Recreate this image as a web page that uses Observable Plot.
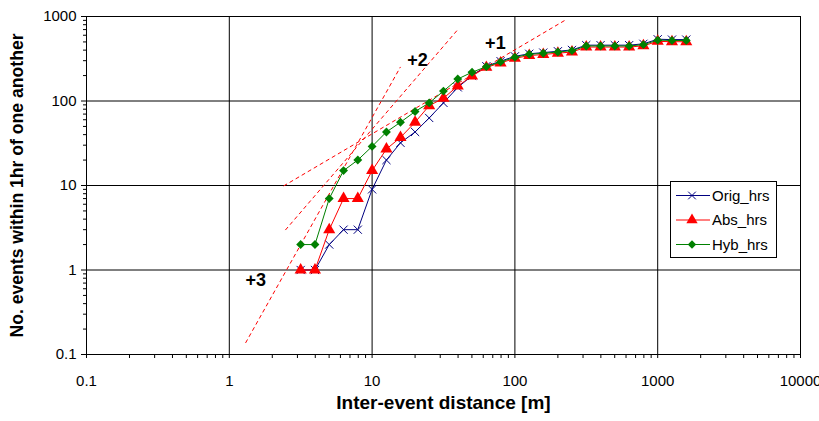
<!DOCTYPE html>
<html><head><meta charset="utf-8">
<script src="https://cdn.jsdelivr.net/npm/d3@7"></script>
<script src="https://cdn.jsdelivr.net/npm/@observablehq/plot@0.6"></script>
<style>
body{margin:0;background:#fff;}
#chart{position:relative;width:819px;height:421px;}
</style></head><body><div id="chart"></div>
<script>
const distance = [3.16, 3.98, 5.01, 6.31, 7.94, 10, 12.6, 15.8, 20, 25.1, 31.6, 39.8, 50.1, 63.1, 79.4, 100, 126, 158, 200, 251, 316, 398, 501, 631, 794, 1000, 1259, 1585];
const origHrs = [1, 1, 2, 3, 3, 9, 20, 32, 43, 63, 95, 145, 199, 258, 296, 338, 362, 374, 388, 402, 458, 458, 458, 458, 475, 538, 533, 533];
const absHrs  = [1, 1, 3, 7, 7, 15, 27, 37, 56, 88, 108, 150, 198, 250, 282, 320, 345, 355, 368, 380, 435, 435, 435, 435, 450, 508, 503, 503];
const hybHrs  = [2, 2, 7, 15, 20, 29, 43, 56, 75, 95, 131, 182, 219, 255, 290, 329, 357, 367, 380, 394, 448, 448, 448, 448, 464, 525, 520, 520];
const seriesNames = ["Orig_hrs", "Abs_hrs", "Hyb_hrs"];

const xTicks = [0.1, 1, 10, 100, 1000, 10000];
const xTickLabels = ["0.1", "1", "10", "100", "1000", "10000"];
const yTicks = [0.1, 1, 10, 100, 1000];
const yTickLabels = ["0.1", "1", "10", "100", "1000"];

const slopeLabels = ["+3", "+2", "+1"];
const slopeStartX = [1.30, 2.47, 2.40];
const slopeStartY = [0.137, 2.97, 9.87];
const slopeEndX = [15.8, 39.6, 226];
const slopeEndY = [253, 692, 909];
const slopeLabelX = [1.53, 20.8, 73];
const slopeLabelY = [0.76, 300, 482];

const xTitle = "Inter-event distance [m]";
const yTitle = "No. events within 1hr of one another";

// minor ticks
const minorX = xTicks.slice(0, -1).flatMap(d => [2,3,4,5,6,7,8,9].map(m => d * m));
const minorY = yTicks.slice(0, -1).flatMap(d => [2,3,4,5,6,7,8,9].map(m => d * m));

const colors = {"Orig_hrs": "#000080", "Abs_hrs": "#ff0000", "Hyb_hrs": "#008000"};
const mk = (arr) => distance.map((d, i) => ({x: d, y: arr[i]}));
const orig = mk(origHrs), abs = mk(absHrs), hyb = mk(hybHrs);

const slopeSegs = slopeLabels.map((l, i) => ({x1: slopeStartX[i], y1: slopeStartY[i], x2: slopeEndX[i], y2: slopeEndY[i]}));
const slopeText = slopeLabels.map((l, i) => ({label: l, x: slopeLabelX[i], y: slopeLabelY[i]}));

const font = "'Liberation Sans', Arial, sans-serif";

const chart = Plot.plot({
  width: 819, height: 421,
  marginLeft: 86, marginRight: 19, marginTop: 16, marginBottom: 67,
  style: {fontFamily: font, fontSize: "15px", color: "#000", background: "#fff", overflow: "visible"},
  x: {type: "log", domain: [0.1, 10000], label: null},
  y: {type: "log", domain: [0.1, 1000], label: null},
  marks: [
    Plot.gridX(xTicks, {stroke: "#000", strokeOpacity: 1, strokeWidth: 1}),
    Plot.gridY(yTicks, {stroke: "#000", strokeOpacity: 1, strokeWidth: 1}),
    Plot.ruleX([0.1], {stroke: "#000"}),
    Plot.ruleY([0.1], {stroke: "#000"}),
    Plot.axisX(minorX.concat(xTicks), {tickSize: 4, fill: "none", stroke: "#000", label: null}),
    Plot.axisX(xTicks, {tickSize: 0, tickPadding: 21, tickFormat: d => xTickLabels[xTicks.indexOf(d)], fontSize: 15, label: null}),
    Plot.axisY(minorY, {tickSize: 3, fill: "none", stroke: "#000", label: null}),
    Plot.axisY(yTicks, {tickSize: 5, tickPadding: 5, tickFormat: d => yTickLabels[yTicks.indexOf(d)], fontSize: 15, stroke: "#000", label: null}),
    Plot.link(slopeSegs, {x1: "x1", y1: "y1", x2: "x2", y2: "y2", stroke: "#ff0000", strokeWidth: 1, strokeDasharray: "4,3"}),
    Plot.text(slopeText, {x: "x", y: "y", text: "label", fontSize: 18, fontWeight: "bold", fill: "#000"}),
    Plot.line(orig, {x: "x", y: "y", stroke: colors["Orig_hrs"], strokeWidth: 1}),
    Plot.dot(orig, {x: "x", y: "y", symbol: "times", r: 3.8, stroke: colors["Orig_hrs"], strokeWidth: 1}),
    Plot.line(abs, {x: "x", y: "y", stroke: colors["Abs_hrs"], strokeWidth: 1}),
    Plot.dot(abs, {x: "x", y: "y", symbol: "triangle", r: 4.5, fill: colors["Abs_hrs"], stroke: "none"}),
    Plot.line(hyb, {x: "x", y: "y", stroke: colors["Hyb_hrs"], strokeWidth: 1}),
    Plot.dot(hyb, {x: "x", y: "y", symbol: "diamond2", r: 4, fill: colors["Hyb_hrs"], stroke: "none"}),
    Plot.text([xTitle], {frameAnchor: "bottom", dy: 54, text: d => d, textAnchor: "middle", fontSize: 19, fontWeight: "bold", fill: "#000"}),
    Plot.text([yTitle], {frameAnchor: "left", dx: -69, dy: 0, rotate: -90, text: d => d, textAnchor: "middle", fontSize: 17.6, fontWeight: "bold", fill: "#000"})
  ]
});
document.getElementById("chart").appendChild(chart);

// legend inside plot area
const svg = d3.select(chart);
const lg = svg.append("g").attr("font-family", font).attr("font-size", 15).attr("text-anchor", "start");
lg.append("rect").attr("x", 670.5).attr("y", 181.5).attr("width", 106).attr("height", 76).attr("fill", "#fff").attr("stroke", "#000");
const symGen = {
  "Orig_hrs": d3.symbol(d3.symbolTimes, 40),
  "Abs_hrs": d3.symbol(d3.symbolTriangle, 55),
  "Hyb_hrs": d3.symbol(d3.symbolDiamond2, 45)
};
seriesNames.forEach((name, i) => {
  const cy = 195.5 + i * 24.5;
  lg.append("line").attr("x1", 676).attr("x2", 710).attr("y1", cy).attr("y2", cy).attr("stroke", colors[name]);
  const p = lg.append("path").attr("d", symGen[name]()).attr("transform", `translate(692,${cy})`);
  if (name === "Orig_hrs") p.attr("fill", "none").attr("stroke", colors[name]);
  else p.attr("fill", colors[name]);
  lg.append("text").attr("x", 712).attr("y", cy).attr("dy", "0.35em").attr("text-anchor", "start").attr("fill", "#000").text(name);
});
</script></body></html>
